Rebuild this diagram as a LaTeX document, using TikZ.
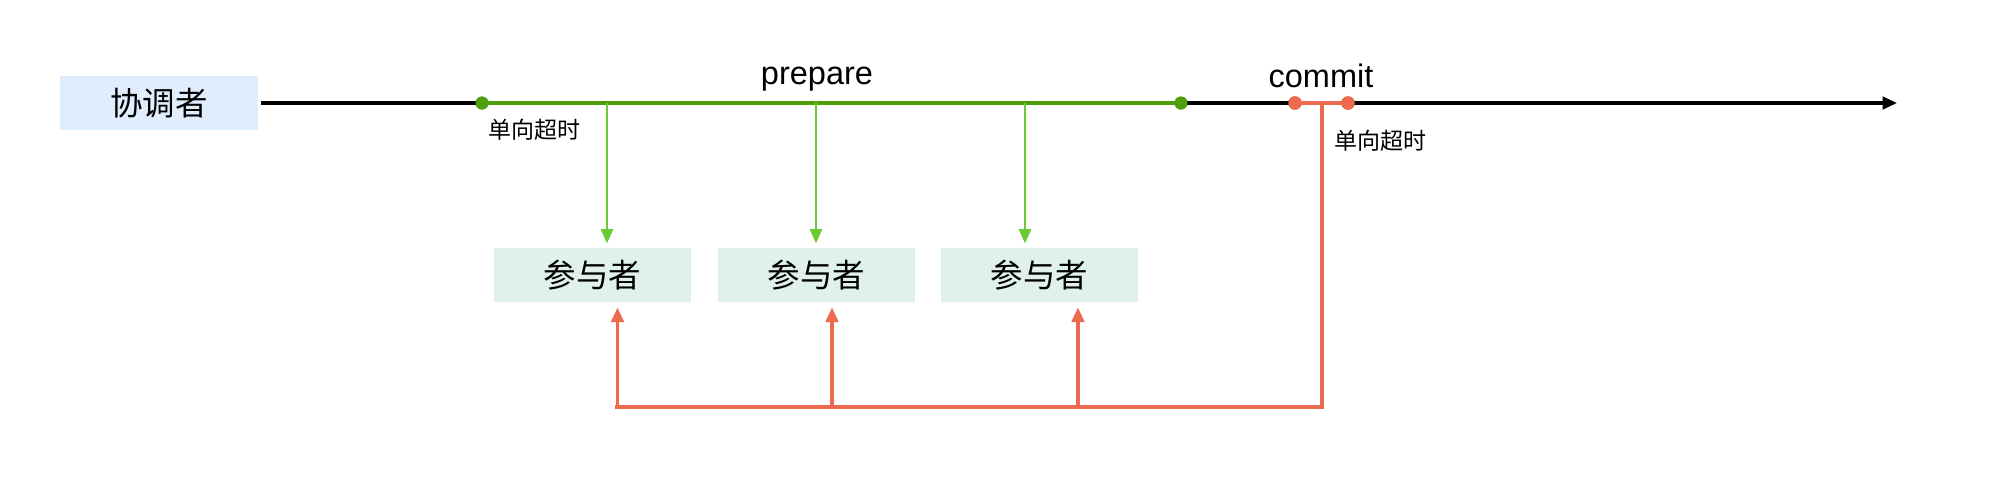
\documentclass[tikz,border=0pt]{standalone}
\usepackage{fontspec}
\setmainfont{Liberation Sans}
\newfontfamily\cjk{Noto Sans CJK SC}
\usetikzlibrary{arrows.meta}
\definecolor{cfill}{HTML}{DFEDFD}
\definecolor{pfill}{HTML}{E0F0EB}
\definecolor{gline}{HTML}{4D9F0C}
\definecolor{garr}{HTML}{6CCB35}
\definecolor{rline}{HTML}{EE6A4E}
\tikzset{
  coordbox/.style={fill=cfill, minimum width=79.2pt, minimum height=21.6pt, inner sep=0pt, font=\cjk\fontsize{13pt}{15pt}\selectfont},
  partbox/.style={fill=pfill, minimum width=78.8pt, minimum height=21.6pt, inner sep=0pt, font=\cjk\fontsize{13pt}{15pt}\selectfont},
  gdot/.style={circle, fill=gline, minimum size=5.2pt, inner sep=0pt},
  rdot/.style={circle, fill=rline, minimum size=5.4pt, inner sep=0pt},
  biglabel/.style={font=\fontsize{13pt}{15pt}\selectfont, inner sep=0pt},
  smalllabel/.style={font=\cjk\fontsize{9.2pt}{11pt}\selectfont, inner sep=0pt, anchor=west},
  timeline/.style={line width=1.3pt, draw=black, -{Triangle[length=5.8pt, width=5pt]}},
  gseg/.style={line width=1.3pt, draw=gline},
  rseg/.style={line width=1.3pt, draw=rline},
  garrow/.style={line width=1.15pt, draw=garr, -{Triangle[length=5.8pt, width=4.8pt]}},
  rarrow/.style={line width=1.3pt, draw=rline, -{Triangle[length=5.8pt, width=5pt]}},
}
\begin{document}
\begin{tikzpicture}[x=0.4pt, y=-0.4pt]
\useasboundingbox (0,0) rectangle (1996,502);
% coordinator
\node[coordbox] (coord) at (159,103) {协调者};
% participants
\node[partbox] (p1) at (592.5,275) {参与者};
\node[partbox] (p2) at (816.5,275) {参与者};
\node[partbox] (p3) at (1039.5,275) {参与者};
% timeline points
\coordinate (tend) at (1897,103);
\node[gdot] (g1) at (482,103) {};
\node[gdot] (g2) at (1181,103) {};
\node[rdot] (r1) at (1295,103) {};
\node[rdot] (r2) at (1348,103) {};
% timeline
\draw[timeline] ([xshift=1pt]coord.east) -- (tend);
\draw[gseg] (g1.center) -- (g2.center);
\draw[rseg] (r1.center) -- (r2.center);
\node[gdot] at (g1) {};
\node[gdot] at (g2) {};
\node[rdot] at (r1) {};
\node[rdot] at (r2) {};
% labels
\node[biglabel] (prep) at (817,79) {prepare};
\node[biglabel] (comm) at (1321,76) {commit};
\node[smalllabel] (t1) at (488,130) {单向超时};
\node[smalllabel] (t2) at (1334,141) {单向超时};
% green arrows
\coordinate (a1) at (607,103);
\coordinate (a2) at (816,103);
\coordinate (a3) at (1025,103);
\draw[garrow, shorten >=1.6pt] (a1) -- (a1 |- p1.north);
\draw[garrow, shorten >=1.6pt] (a2) -- (a2 |- p2.north);
\draw[garrow, shorten >=1.6pt] (a3) -- (a3 |- p3.north);
% red feedback
\coordinate (rm) at (1322,103);
\coordinate (rb) at (1322,407);
\coordinate (rl) at (615,407);
\draw[rseg] (rm) -- (rb) -- (rl);
\coordinate (b1) at (617.5,407);
\coordinate (b2) at (832,407);
\coordinate (b3) at (1078,407);
\draw[rarrow, shorten >=2pt] (b1) -- (b1 |- p1.south);
\draw[rarrow, shorten >=2pt] (b2) -- (b2 |- p2.south);
\draw[rarrow, shorten >=2pt] (b3) -- (b3 |- p3.south);
\end{tikzpicture}
\end{document}
